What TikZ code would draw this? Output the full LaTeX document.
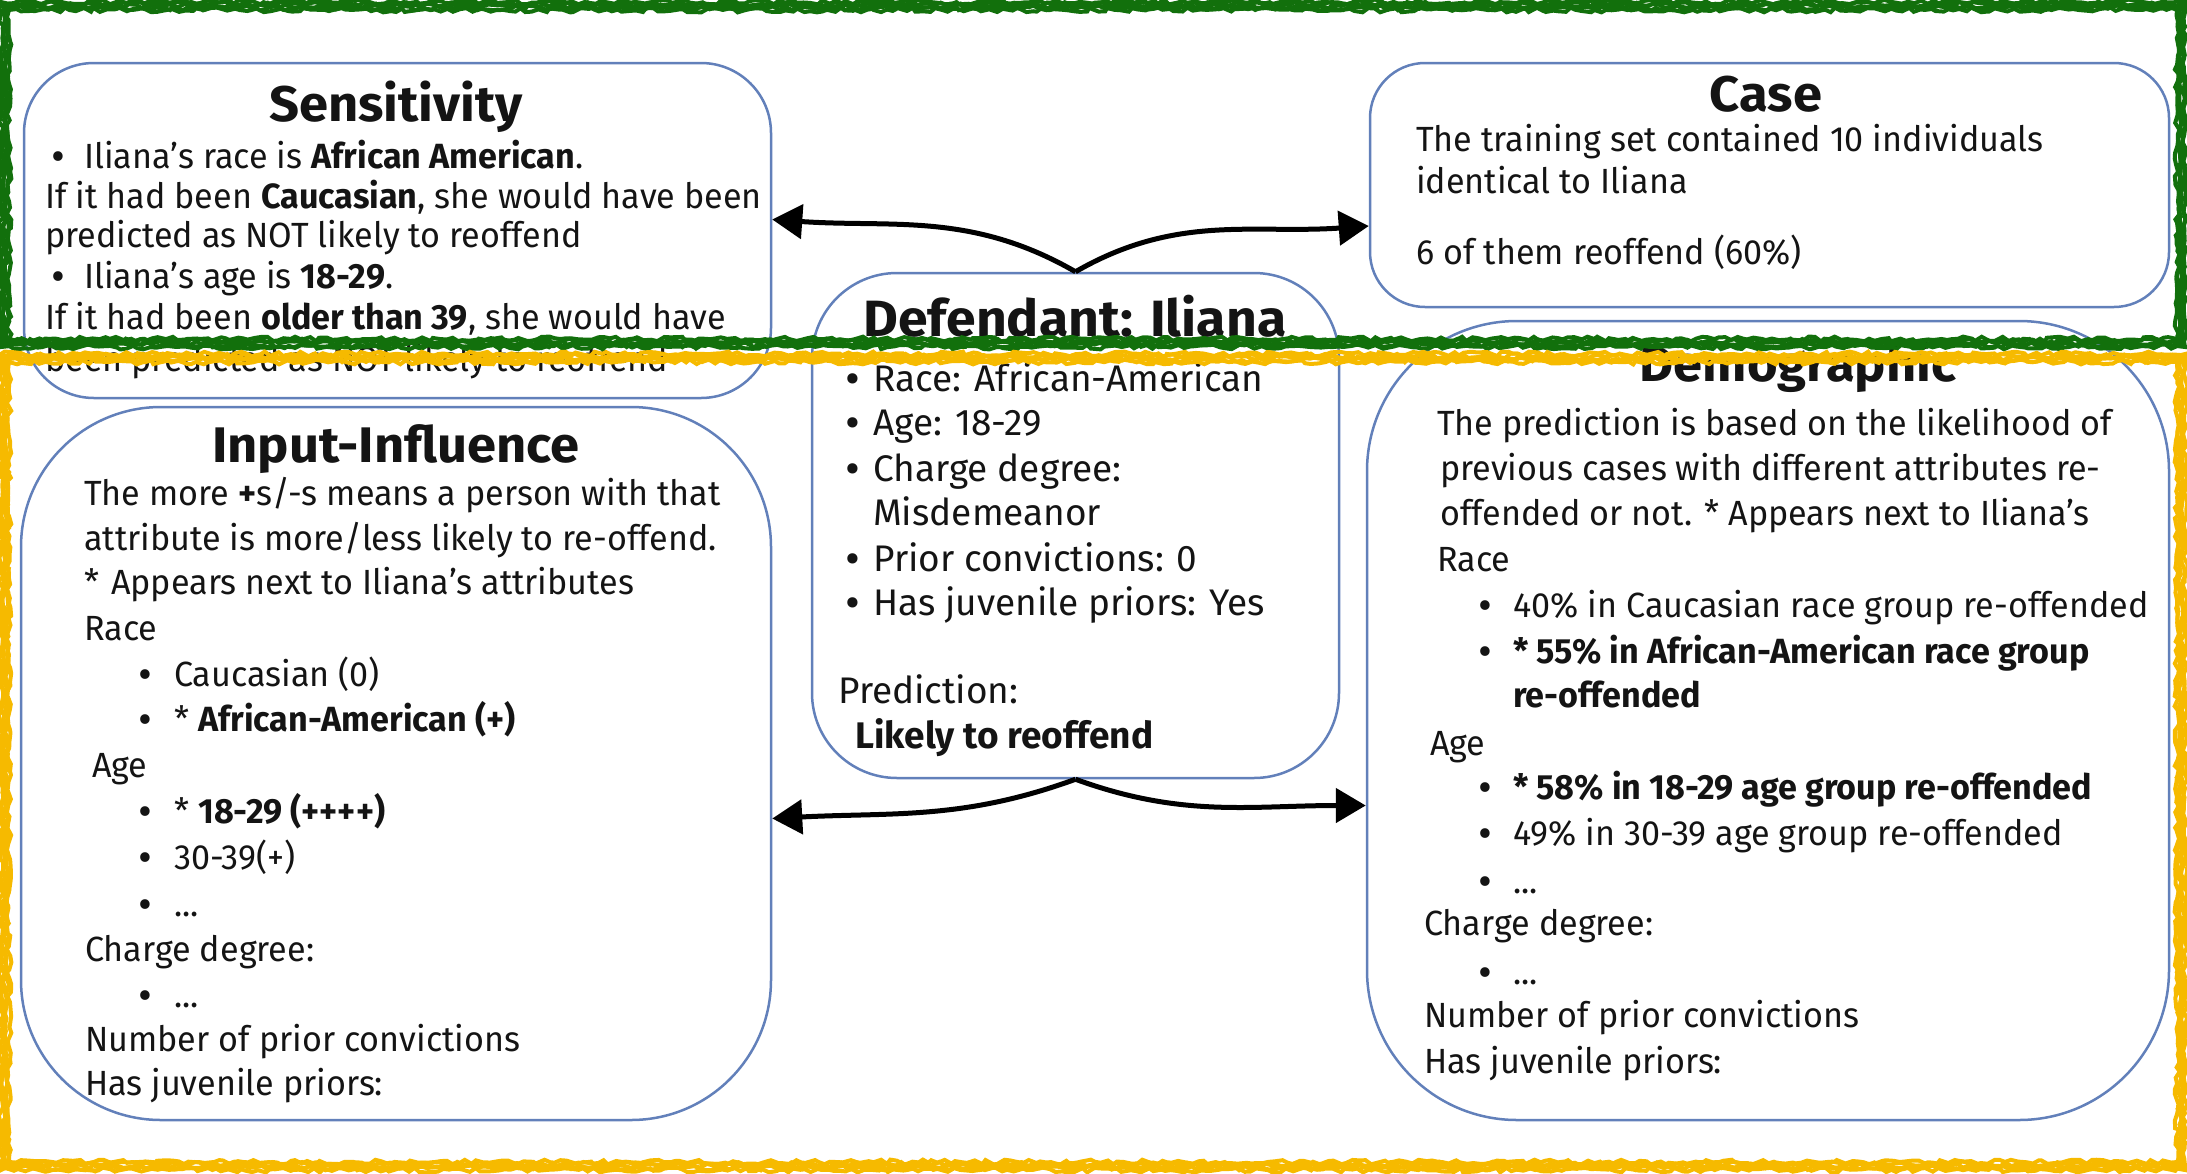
\documentclass[tikz,border=0pt]{standalone}
\usepackage{fontspec}
\setmainfont{Fira Sans}
\newfontfamily\condf[FakeStretch=0.975]{Fira Sans}
\newfontfamily\headf[FakeStretch=1.05]{Fira Sans}
\usetikzlibrary{arrows.meta,decorations.pathmorphing}

\definecolor{panelblue}{RGB}{98,128,186}
\definecolor{frameGreen}{RGB}{18,112,12}
\definecolor{frameYellow}{RGB}{246,186,0}
\definecolor{ink}{RGB}{20,20,20}

% bullet followed by its text, bullet in a box of fixed width
\newcommand{\bitem}[2]{\makebox[#1][l]{\textbf{\textbullet}}#2}

\begin{document}
\begin{tikzpicture}[x=1pt,y=-1pt,
  panel/.style={draw=panelblue,line width=2.5pt,inner sep=0pt},
  body/.style={anchor=base west,inner sep=0pt,text=ink,font=\condf\fontsize{35}{42}\selectfont},
  dbody/.style={anchor=base west,inner sep=0pt,text=ink,font=\fontsize{37}{44}\selectfont},
  ptitle/.style={anchor=base,inner sep=0pt,text=ink,font=\headf\bfseries\fontsize{50}{50}\selectfont},
  dtitle/.style={anchor=base,inner sep=0pt,text=ink,font=\headf\bfseries\fontsize{51}{51}\selectfont},
  conn/.style={line width=5pt,-{Triangle[length=30pt,width=34pt]}},
  roughline/.style={line width=4pt,decorate,decoration={random steps,segment length=6pt,amplitude=2.4pt}},
]
\useasboundingbox (0,0) rectangle (2187,1173);

% panels
\node[panel,rounded corners=70pt,minimum width=747pt,minimum height=335pt] (sens) at (397.5,230.5) {};
\node[panel,rounded corners=55pt,minimum width=799pt,minimum height=244pt] (case) at (1769.5,185) {};
\node[panel,rounded corners=85pt,minimum width=527pt,minimum height=505pt] (def) at (1075.5,525.5) {};
\node[panel,rounded corners=140pt,minimum width=750pt,minimum height=713pt] (infl) at (396,763.5) {};
\node[panel,rounded corners=150pt,minimum width=802pt,minimum height=799pt] (demo) at (1768,720.5) {};

% Sensitivity
\node[ptitle] (sens-title) at (396,121) {Sensitivity};
\node[body] (sens-1) at (52,168) {\bitem{32pt}{Iliana’s race is \textbf{African American}.}};
\node[body] (sens-2) at (45,208) {If it had been \textbf{Caucasian}, she would have been};
\node[body] (sens-3) at (45,247) {predicted as NOT likely to reoffend};
\node[body] (sens-4) at (52,288) {\bitem{32pt}{Iliana’s age is \textbf{18-29}.}};
\node[body] (sens-5) at (45,329) {If it had been \textbf{older than 39}, she would have};
\node[body] (sens-6) at (45,371) {been predicted as NOT likely to reoffend};

% Case
\node[ptitle] (case-title) at (1766,111) {Case};
\node[body] (case-1) at (1416,151) {The training set contained 10 individuals};
\node[body] (case-2) at (1416,193) {identical to Iliana};
\node[body] (case-3) at (1416,264) {6 of them reoffend (60\%)};

% Defendant
\node[dtitle] (def-title) at (1075,336) {Defendant: Iliana};
\node[dbody] (def-1) at (846,391) {\bitem{27pt}{Race: African-American}};
\node[dbody] (def-2) at (846,435) {\bitem{27pt}{Age: 18-29}};
\node[dbody] (def-3) at (846,481) {\bitem{27pt}{Charge degree:}};
\node[dbody] (def-4) at (873,525) {Misdemeanor};
\node[dbody] (def-5) at (846,571) {\bitem{27pt}{Prior convictions: 0}};
\node[dbody] (def-6) at (846,615) {\bitem{27pt}{Has juvenile priors: Yes}};
\node[dbody] (def-7) at (838,703) {Prediction:};
\node[dbody] (def-8) at (855,748) {\textbf{Likely to reoffend}};

% Input-Influence
\node[ptitle] (infl-title) at (396,462) {Input-Influence};
\node[body] (infl-1) at (84,505) {The more \textbf{+}s/-s means a person with that};
\node[body] (infl-2) at (84,550) {attribute is more/less likely to re-offend.};
\node[body] (infl-3) at (84,594) {*\hspace{12pt}Appears next to Iliana’s attributes};
\node[body] (infl-4) at (84,640) {Race};
\node[body] (infl-5) at (139,686) {\bitem{35pt}{Caucasian (0)}};
\node[body] (infl-6) at (139,731) {\bitem{35pt}{* \textbf{African-American (+)}}};
\node[body] (infl-7) at (92,777) {Age};
\node[body] (infl-8) at (139,823) {\bitem{35pt}{* \textbf{18-29 (++++)}}};
\node[body] (infl-9) at (139,869) {\bitem{35pt}{30-39(+)}};
\node[body] (infl-10) at (139,916) {\bitem{35pt}{...}};
\node[body] (infl-11) at (85,961) {Charge degree:};
\node[body] (infl-12) at (139,1007) {\bitem{35pt}{...}};
\node[body] (infl-13) at (85,1051) {Number of prior convictions};
\node[body] (infl-14) at (85,1095) {Has juvenile priors:};

% Demographic
\node[ptitle] (demo-title) at (1798,381) {Demographic};
\node[body] (demo-1) at (1437,435) {The prediction is based on the likelihood of};
\node[body] (demo-2) at (1440,480) {previous cases with different attributes re-};
\node[body] (demo-3) at (1440,525) {offended or not. * Appears next to Iliana’s};
\node[body] (demo-4) at (1437,571) {Race};
\node[body] (demo-5) at (1479,617) {\bitem{34pt}{40\% in Caucasian race group re-offended}};
\node[body] (demo-6) at (1479,663) {\bitem{34pt}{\textbf{* 55\% in African-American race group}}};
\node[body] (demo-7) at (1513,707) {\textbf{re-offended}};
\node[body] (demo-8) at (1430,755) {Age};
\node[body] (demo-9) at (1479,799) {\bitem{34pt}{\textbf{* 58\% in 18-29 age group re-offended}}};
\node[body] (demo-10) at (1479,845) {\bitem{34pt}{49\% in 30-39 age group re-offended}};
\node[body] (demo-11) at (1479,893) {\bitem{34pt}{...}};
\node[body] (demo-12) at (1424,935) {Charge degree:};
\node[body] (demo-13) at (1479,984) {\bitem{34pt}{...}};
\node[body] (demo-14) at (1424,1027) {Number of prior convictions};
\node[body] (demo-15) at (1424,1073) {Has juvenile priors:};

% connectors from the defendant panel
\draw[conn] (def.north) to[out=150,in=-4] ([yshift=11pt]sens.east);
\draw[conn] (def.north) to[out=30,in=184] ([yshift=-41pt]case.west);
\draw[conn] (def.south) to[out=200,in=3] ([yshift=-55pt]infl.east);
\draw[conn] (def.south) to[out=-20,in=180] ([yshift=-85pt]demo.west);

% hand-drawn frames
\pgfmathsetseed{42}
\foreach \d in {-4,-2,0,2,4}{
  \draw[roughline,draw=frameGreen] (5+\d,6+\d) rectangle (2181-\d,343-\d);
}
\foreach \d in {-4,-2,0,2,4}{
  \draw[roughline,draw=frameYellow] (5+\d,358+\d) rectangle (2181-\d,1166-\d);
}
\end{tikzpicture}
\end{document}
